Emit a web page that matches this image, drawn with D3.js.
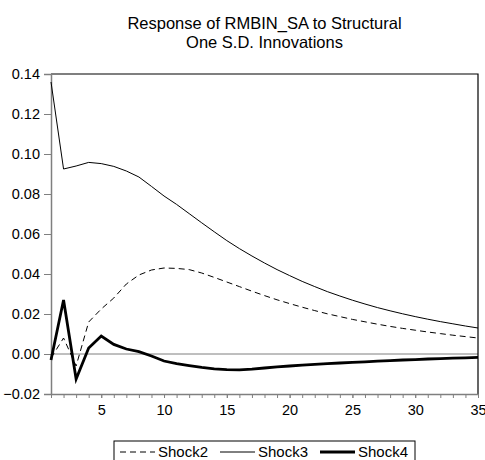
<!DOCTYPE html>
<html>
<head>
<meta charset="utf-8">
<script src="https://cdn.jsdelivr.net/npm/d3@7"></script>
<style>
  body { margin: 0; background: #fff; }
  svg { display: block; font-family: "Liberation Sans", Arial, sans-serif; }
</style>
</head>
<body>
<div id="chart"></div>
<script>
const periods = d3.range(1, 36);
const shock2 = [-0.002, 0.008, -0.006, 0.016, 0.0225, 0.028, 0.035, 0.0395, 0.042, 0.043,
  0.0428, 0.0422, 0.0405, 0.0383, 0.036, 0.0337, 0.0314, 0.0292, 0.0271, 0.0252,
  0.0234, 0.0217, 0.0201, 0.0187, 0.0173, 0.0161, 0.0149, 0.0138, 0.0128, 0.0119,
  0.011, 0.0102, 0.0094, 0.0087, 0.008];
const shock3 = [0.136, 0.0925, 0.094, 0.0958, 0.0952, 0.0938, 0.0915, 0.0885, 0.0838, 0.079,
  0.0748, 0.0702, 0.0656, 0.0611, 0.0567, 0.0527, 0.049, 0.0455, 0.0422, 0.0392,
  0.0363, 0.0337, 0.0312, 0.029, 0.0269, 0.025, 0.0232, 0.0216, 0.0201, 0.0187,
  0.0174, 0.0162, 0.0151, 0.014, 0.013];
const shock4 = [-0.003, 0.027, -0.0125, 0.003, 0.009, 0.0048, 0.0025, 0.0012, -0.001, -0.0035,
  -0.0048, -0.0058, -0.0067, -0.0074, -0.0078, -0.0079, -0.0076, -0.007, -0.0064, -0.006,
  -0.0056, -0.0052, -0.0048, -0.0045, -0.0042, -0.0039, -0.0036, -0.0033, -0.003, -0.0028,
  -0.0025, -0.0023, -0.0021, -0.0019, -0.0017];
const yTicks = [-0.02, 0.00, 0.02, 0.04, 0.06, 0.08, 0.10, 0.12, 0.14];
const xTicks = [5, 10, 15, 20, 25, 30, 35];
const titleLines = ["Response of RMBIN_SA to Structural", "One S.D. Innovations"];

const series = [
  { name: "Shock2", values: shock2, width: 1, dash: "6,4" },
  { name: "Shock3", values: shock3, width: 1, dash: null },
  { name: "Shock4", values: shock4, width: 2.8, dash: null }
];

const width = 485, height = 460;
const margin = { top: 74, right: 7, bottom: 66, left: 51 };
const axisGray = "#7f7f7f";

const svg = d3.select("#chart").append("svg")
  .attr("width", width)
  .attr("height", height);

const x = d3.scaleLinear().domain([1, 35]).range([margin.left, width - margin.right]);
const y = d3.scaleLinear().domain([-0.02, 0.14]).range([height - margin.bottom, margin.top]);

// title
svg.append("g").selectAll("text")
  .data(titleLines)
  .join("text")
  .attr("x", (margin.left + width - margin.right) / 2)
  .attr("y", (d, i) => 29 + i * 19)
  .attr("text-anchor", "middle")
  .attr("font-size", "16.5px")
  .attr("fill", "#000")
  .text(d => d);

// zero line
svg.append("line")
  .attr("x1", x(1)).attr("x2", x(35))
  .attr("y1", y(0)).attr("y2", y(0))
  .attr("stroke", axisGray)
  .attr("stroke-width", 1);

// top and right frame
svg.append("path")
  .attr("d", `M${x(1)},${y(0.14)}H${x(35)}V${y(-0.02)}`)
  .attr("fill", "none")
  .attr("stroke", "#000")
  .attr("stroke-width", 1.2);

// y axis
const yAxis = svg.append("g")
  .attr("transform", `translate(${margin.left},0)`)
  .call(d3.axisLeft(y).tickValues(yTicks).tickFormat(d3.format(".2f")).tickSize(7).tickPadding(4));
yAxis.select(".domain").attr("stroke", axisGray).attr("stroke-width", 1.5);
yAxis.selectAll(".tick line").attr("stroke", axisGray);
yAxis.selectAll(".tick text").attr("font-size", "14.5px").attr("fill", "#000")
  .attr("font-family", "Liberation Sans, Arial, sans-serif");

// x axis: minor ticks each period, labels every 5
const xMinor = svg.append("g")
  .attr("transform", `translate(0,${height - margin.bottom})`)
  .call(d3.axisBottom(x).tickValues(periods).tickFormat("").tickSize(4).tickSizeOuter(0));
xMinor.select(".domain").attr("stroke", axisGray).attr("stroke-width", 1.5);
xMinor.selectAll(".tick line").attr("stroke", axisGray);

const xAxis = svg.append("g")
  .attr("transform", `translate(0,${height - margin.bottom})`)
  .call(d3.axisBottom(x).tickValues(xTicks).tickSize(4).tickPadding(7));
xAxis.select(".domain").remove();
xAxis.selectAll(".tick line").attr("stroke", axisGray);
xAxis.selectAll(".tick text").attr("font-size", "14.5px").attr("fill", "#000")
  .attr("font-family", "Liberation Sans, Arial, sans-serif");

// lines
const line = d3.line()
  .x((d, i) => x(periods[i]))
  .y(d => y(d));

svg.append("g").selectAll("path")
  .data(series)
  .join("path")
  .attr("d", d => line(d.values))
  .attr("fill", "none")
  .attr("stroke", "#000")
  .attr("stroke-width", d => d.width)
  .attr("stroke-dasharray", d => d.dash)
  .attr("stroke-linejoin", "miter");

// legend
const legend = svg.append("g").attr("transform", "translate(114,441)");
legend.append("rect")
  .attr("width", 301).attr("height", 24)
  .attr("fill", "#fff")
  .attr("stroke", "#000")
  .attr("stroke-width", 1);

const legendItem = legend.selectAll("g")
  .data(series)
  .join("g")
  .attr("transform", (d, i) => `translate(${6 + i * 100},0)`);

legendItem.append("line")
  .attr("x1", 0).attr("x2", 35)
  .attr("y1", 11).attr("y2", 11)
  .attr("stroke", "#000")
  .attr("stroke-width", d => d.width)
  .attr("stroke-dasharray", d => d.dash);

legendItem.append("text")
  .attr("x", 38)
  .attr("y", 16)
  .attr("font-size", "15px")
  .attr("fill", "#000")
  .text(d => d.name);
</script>
</body>
</html>
